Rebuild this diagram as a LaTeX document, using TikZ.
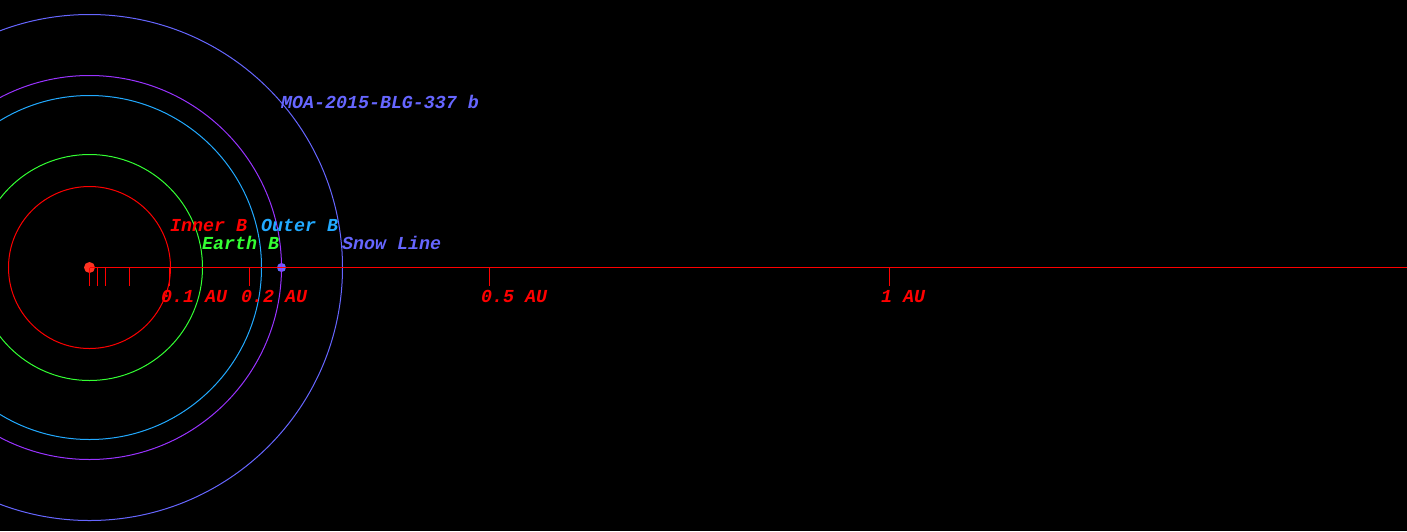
\documentclass[tikz,border=0pt]{standalone}
\usepackage{fontspec}
\setmonofont{Liberation Mono}
\usepackage{tikz}
\usetikzlibrary{positioning, calc}

\definecolor{innerred}{HTML}{FF0000}
\definecolor{earthgreen}{HTML}{33FF33}
\definecolor{outerblue}{HTML}{22AAFF}
\definecolor{planetpurple}{HTML}{9933FF}
\definecolor{snowblue}{HTML}{6666FF}
\definecolor{starred}{HTML}{FF3322}

\begin{document}
\begin{tikzpicture}[x=1pt, y=-1pt,
  orbit/.style={line width=1pt},
  lbl/.style={anchor=base west, inner sep=0pt, font=\fontsize{18.3}{20}\selectfont\ttfamily\bfseries\itshape},
  axtick/.style={innerred, line width=1pt}
]
\fill[black] (0,0) rectangle (1407,531);
\useasboundingbox (0,0) rectangle (1407,531);

\begin{scope}[shift={(0.5,0.5)}]
\coordinate (star) at (89,267);
\fill[starred] (star) circle (5.5);
\fill[snowblue] (281,267) circle (4.5) coordinate (planet);

% orbits
\draw[orbit, innerred] (star) circle (81);
\draw[orbit, earthgreen] (star) circle (113);
\draw[orbit, outerblue] (star) circle (172);
\draw[orbit, planetpurple] (star) circle (192);
\draw[orbit, snowblue] (star) circle (253);

% axis
\coordinate (axend) at (1407,267);
\draw[axtick] (star) -- (axend);
\foreach \d in {0, 0.01, 0.02, 0.05, 0.1, 0.2, 0.5, 1}
  \draw[axtick] ($(star)+(800*\d,0)$) -- ++(0,18);
\end{scope}

\node[lbl, text=innerred] (au1) at (161,302) {0.1 AU};
\node[lbl, text=innerred] (au2) at (241,302) {0.2 AU};
\node[lbl, text=innerred] (au5) at (481,302) {0.5 AU};
\node[lbl, text=innerred] (au10) at (881,302) {1 AU};

% zone labels
\node[lbl, text=innerred] (inner) at (170,231) {Inner B};
\node[lbl, text=outerblue] (outer) at (261,231) {Outer B};
\node[lbl, text=earthgreen] (earth) at (202,249) {Earth B};
\node[lbl, text=snowblue] (snow) at (342,249) {Snow Line};
\node[lbl, text=snowblue] (moa) at (281,108) {MOA-2015-BLG-337 b};
\end{tikzpicture}
\end{document}
